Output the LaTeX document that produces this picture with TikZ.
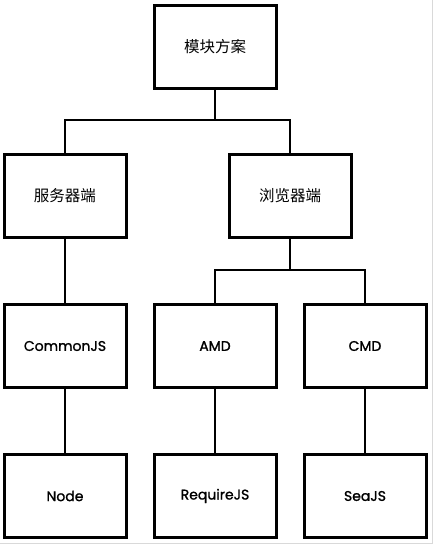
\documentclass[tikz,border=0pt]{standalone}
\usepackage{fontspec}
\setmainfont{Poppins}[FakeBold=1.2]
\newfontfamily\cjk{Noto Sans CJK SC}
\begin{document}
\begin{tikzpicture}[x=1pt,y=-1pt,
  box/.style={draw=black,line width=3pt,minimum width=122pt,minimum height=83pt,inner sep=0pt,fill=white},
  cn/.style={box,font=\cjk\fontsize{15.5}{18}\selectfont},
  lat/.style={box,font=\fontsize{14}{16}\selectfont},
  link/.style={draw=black,line width=2pt}]
\useasboundingbox (0,0) rectangle (437,558);
\draw[black!15,line width=1pt] (432.5,0) -- (432.5,543.5) -- (0,543.5);
\node[cn] (root) at (215,46.5) {模块方案};
\node[cn] (srv) at (65,195.5) {服务器端};
\node[cn] (brw) at (290,195.5) {浏览器端};
\node[lat] (cjs) at (65,346) {CommonJS};
\node[lat] (amd) at (215,346) {AMD};
\node[lat] (cmd) at (365,346) {CMD};
\node[lat] (nodejs) at (65,496) {Node};
\node[lat] (req) at (215,496) {RequireJS};
\node[lat] (sea) at (365,496) {SeaJS};
\coordinate (j1) at (215,120);
\coordinate (j2) at (290,270);
\draw[link] (root.south) -- (j1);
\draw[link] (srv.north) |- (j1) -| (brw.north);
\draw[link] (brw.south) -- (j2);
\draw[link] (amd.north) |- (j2) -| (cmd.north);
\draw[link] (srv.south) -- (cjs.north);
\draw[link] (cjs.south) -- (nodejs.north);
\draw[link] (amd.south) -- (req.north);
\draw[link] (cmd.south) -- (sea.north);
\end{tikzpicture}
\end{document}
